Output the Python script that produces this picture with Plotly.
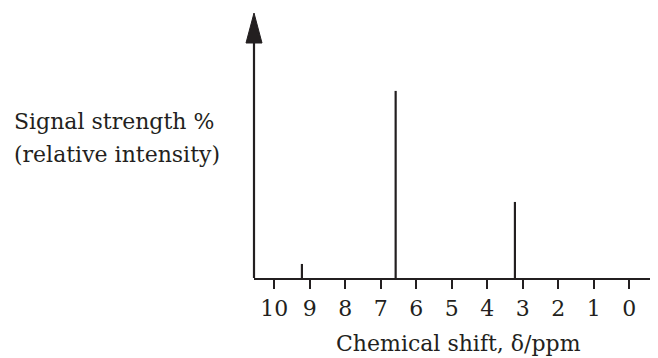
import plotly.graph_objects as go

# Data
shifts = [9.22, 6.58, 3.22]          # chemical shift, ppm
intensity = [5.3, 70.6, 28.7]        # relative signal strength %
tick_vals = [10, 9, 8, 7, 6, 5, 4, 3, 2, 1, 0]
tick_text = [str(v) for v in tick_vals]

FONT = "DejaVu Serif"
COL = "#231f20"
FS = 22

xs, ys = [], []
for s, h in zip(shifts, intensity):
    xs += [s, s, None]
    ys += [0, h, None]

fig = go.Figure()
fig.add_trace(go.Scatter(x=xs, y=ys, mode="lines",
                         line=dict(color=COL, width=2.2),
                         hoverinfo="skip", showlegend=False))

# page body has an 8px margin: figure is 650x350 placed at (8, 8)
OFF = 8
W, H = 658 - OFF, 358 - OFF
L = 254 - OFF
T = 13 - OFF
B = H - (278 - OFF)

fig.update_layout(
    width=W, height=H,
    margin=dict(l=L, r=0, t=T, b=B, pad=0),
    paper_bgcolor="white", plot_bgcolor="white",
    font=dict(family=FONT, color=COL, size=FS),
    xaxis=dict(range=[10.57, -0.81], tickvals=tick_vals, ticktext=tick_text,
               showline=True, linecolor=COL, linewidth=2.2,
               ticks="outside", ticklen=9, tickwidth=2, tickcolor=COL,
               showgrid=False, zeroline=False, tickfont=dict(size=FS, family=FONT)),
    yaxis=dict(range=[0, 100], showline=False, showgrid=False, zeroline=False,
               showticklabels=False, ticks=""),
    showlegend=False,
)

pw = 658 - 254
ph = 278 - 13
def px(x):
    return (x - 254) / pw
def py(y):
    return (278 - y) / ph

# y-axis line and arrow head
fig.add_shape(type="line", xref="paper", yref="paper",
              x0=0, x1=0, y0=0, y1=py(42),
              line=dict(color=COL, width=2.2))
hw = 8 / pw
fig.add_shape(type="path", xref="paper", yref="paper",
              path=f"M {-hw} {py(43)} L 0 {py(13)} L {hw} {py(43)} Z",
              fillcolor=COL, line=dict(color=COL, width=1))

fig.add_annotation(xref="paper", yref="paper", x=px(12), y=py(121),
                   xanchor="left", yanchor="middle", showarrow=False,
                   text="Signal strength %", font=dict(family=FONT, size=FS, color=COL))
fig.add_annotation(xref="paper", yref="paper", x=px(12), y=py(154),
                   xanchor="left", yanchor="middle", showarrow=False,
                   text="(relative intensity)", font=dict(family=FONT, size=FS, color=COL))
fig.add_annotation(xref="paper", yref="paper", x=px(458), y=py(343),
                   xanchor="center", yanchor="middle", showarrow=False,
                   text="Chemical shift, δ/ppm",
                   font=dict(family=FONT, size=FS, color=COL))

fig.write_html("out.html")
